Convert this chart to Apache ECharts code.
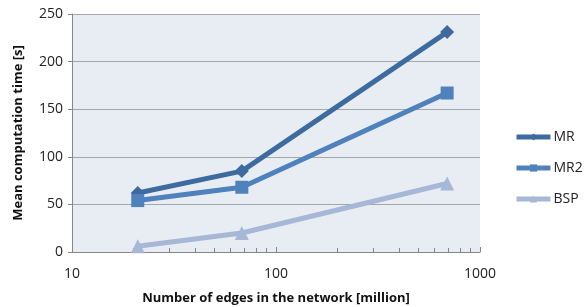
<!DOCTYPE html>
<html>
<head>
<meta charset="utf-8">
<script src="https://cdn.jsdelivr.net/npm/echarts@6/dist/echarts.min.js"></script>
<style>
  html, body { margin: 0; padding: 0; background: #fff; }
  #chart { width: 584px; height: 307px; }
</style>
</head>
<body>
<div id="chart"></div>
<script>
// edges in the network [million]
const edges = [21, 68, 690]
// mean computation time [s]
const mrTimes = [62, 85, 231]
const mr2Times = [54, 68, 167]
const bspTimes = [6, 20, 72]
const seriesNames = ['MR', 'MR2', 'BSP']

const pairs = (xs, ys) => xs.map((x, i) => [x, ys[i]])

const chart = echarts.init(document.getElementById('chart'))
const font = 'Open Sans, Liberation Sans, sans-serif'

chart.setOption({
  animation: false,
  grid: {
    left: 72, right: 104, top: 14, bottom: 55,
    outerBoundsMode: 'none',
    show: true, backgroundColor: '#e8edf4', borderWidth: 0
  },
  legend: {
    orient: 'vertical',
    left: 509,
    top: 125,
    itemWidth: 34,
    itemHeight: 9,
    itemGap: 17,
    data: seriesNames,
    lineStyle: { width: 5 },
    textStyle: { fontFamily: font, fontSize: 14, color: '#222', padding: [0, 0, 0, -2] }
  },
  xAxis: {
    type: 'log',
    logBase: 10,
    min: 10,
    max: 1000,
    name: 'Number of edges in the network [million]',
    nameLocation: 'middle',
    nameGap: 40,
    nameTextStyle: { fontFamily: font, fontSize: 13, fontWeight: 'bold', color: '#111' },
    axisLine: { lineStyle: { color: '#888' } },
    axisTick: { show: true, inside: true, length: 5, lineStyle: { color: '#888' } },
    minorTick: { show: true, splitNumber: 9, length: 4, lineStyle: { color: '#888' } },
    axisLabel: { fontFamily: font, fontSize: 14, color: '#222', margin: 15, formatter: (v) => String(v) },
    splitLine: { show: false }
  },
  yAxis: {
    type: 'value',
    min: 0,
    max: 250,
    interval: 50,
    name: 'Mean computation time [s]',
    nameLocation: 'middle',
    nameGap: 47,
    nameTextStyle: { fontFamily: font, fontSize: 13, fontWeight: 'bold', color: '#111' },
    axisLine: { show: true, lineStyle: { color: '#888' } },
    axisTick: { show: true, length: 4, lineStyle: { color: '#888' } },
    axisLabel: { fontFamily: font, fontSize: 14, color: '#222', margin: 9 },
    splitLine: { lineStyle: { color: '#a6a6a6', width: 1 } }
  },
  series: [
    {
      name: 'MR',
      type: 'line',
      data: pairs(edges, mrTimes),
      symbol: 'diamond',
      symbolSize: 14,
      lineStyle: { width: 5, color: '#3e6b9f' },
      itemStyle: { color: '#3e6b9f' }
    },
    {
      name: 'MR2',
      type: 'line',
      data: pairs(edges, mr2Times),
      symbol: 'rect',
      symbolSize: 13,
      lineStyle: { width: 5, color: '#4f81bd' },
      itemStyle: { color: '#4f81bd' }
    },
    {
      name: 'BSP',
      type: 'line',
      data: pairs(edges, bspTimes),
      symbol: 'triangle',
      symbolSize: 14,
      lineStyle: { width: 5, color: '#a7b7d6' },
      itemStyle: { color: '#a7b7d6' }
    }
  ]
})
</script>
</body>
</html>
